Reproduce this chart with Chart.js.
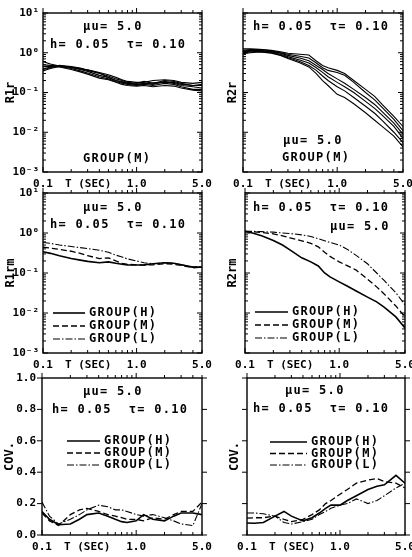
<!DOCTYPE html>
<html>
<head>
<meta charset="utf-8">
<script src="https://cdn.jsdelivr.net/npm/chart.js@4.4.0/dist/chart.umd.min.js"></script>
<style>
  html, body { margin: 0; padding: 0; background: #fff; }
  #wrap { position: relative; width: 412px; height: 557px; overflow: hidden; }
  #wrap canvas { position: absolute; left: 0; top: 0; }
</style>
</head>
<body>
<div id="wrap">
  <canvas id="r1r"></canvas>
  <canvas id="r2r"></canvas>
  <canvas id="r1rm"></canvas>
  <canvas id="r2rm"></canvas>
  <canvas id="cov1"></canvas>
  <canvas id="cov2"></canvas>
</div>
<script>
// periods T (sec), shared by every curve
const periods = [0.1, 0.12, 0.15, 0.2, 0.25, 0.3, 0.4, 0.5, 0.6, 0.7, 0.8, 1.0, 1.2, 1.5, 2.0, 2.5, 3.0, 4.0, 5.0];
const xTicks = [0.1, 1.0, 5.0];
const yLogTicks = [0.001, 0.01, 0.1, 1, 10];
const yLogLabels = ['10⁻³', '10⁻²', '10⁻¹', '10⁰', '10¹'];
const yCovTicks = [0, 0.2, 0.4, 0.6, 0.8, 1.0];
const groupLabels = ['GROUP(H)', 'GROUP(M)', 'GROUP(L)'];

// R1r, individual records of group M
const r1rRecords = [
  [0.60, 0.52, 0.46, 0.42, 0.38, 0.34, 0.27, 0.24, 0.20, 0.18, 0.17, 0.16, 0.17, 0.16, 0.19, 0.17, 0.15, 0.14, 0.13],
  [0.38, 0.42, 0.47, 0.44, 0.40, 0.36, 0.30, 0.26, 0.22, 0.20, 0.18, 0.17, 0.19, 0.17, 0.20, 0.19, 0.17, 0.15, 0.15],
  [0.35, 0.40, 0.45, 0.40, 0.35, 0.31, 0.25, 0.22, 0.19, 0.17, 0.16, 0.15, 0.16, 0.15, 0.17, 0.16, 0.14, 0.12, 0.12],
  [0.45, 0.46, 0.44, 0.38, 0.33, 0.29, 0.23, 0.21, 0.18, 0.16, 0.15, 0.145, 0.15, 0.14, 0.15, 0.145, 0.13, 0.115, 0.11],
  [0.50, 0.48, 0.46, 0.43, 0.39, 0.37, 0.32, 0.28, 0.24, 0.21, 0.19, 0.18, 0.18, 0.20, 0.21, 0.20, 0.18, 0.17, 0.18],
  [0.40, 0.43, 0.48, 0.45, 0.41, 0.37, 0.31, 0.24, 0.20, 0.19, 0.17, 0.16, 0.165, 0.175, 0.18, 0.18, 0.16, 0.15, 0.16]
];

// R2r, individual records of group M
const r2rRecords = [
  [1.25, 1.25, 1.22, 1.15, 1.05, 0.97, 0.92, 0.88, 0.62, 0.48, 0.42, 0.36, 0.30, 0.20, 0.12, 0.08, 0.05, 0.025, 0.014],
  [1.15, 1.20, 1.20, 1.12, 1.00, 0.92, 0.82, 0.74, 0.55, 0.42, 0.36, 0.32, 0.27, 0.18, 0.10, 0.065, 0.042, 0.021, 0.011],
  [1.10, 1.15, 1.15, 1.08, 0.97, 0.86, 0.74, 0.63, 0.48, 0.38, 0.30, 0.22, 0.17, 0.12, 0.075, 0.05, 0.033, 0.017, 0.009],
  [1.05, 1.10, 1.12, 1.05, 0.92, 0.80, 0.66, 0.55, 0.42, 0.32, 0.25, 0.18, 0.14, 0.10, 0.06, 0.04, 0.027, 0.014, 0.007],
  [1.00, 1.05, 1.08, 1.00, 0.88, 0.75, 0.60, 0.48, 0.36, 0.26, 0.20, 0.14, 0.11, 0.075, 0.045, 0.03, 0.02, 0.010, 0.0055],
  [0.95, 1.00, 1.05, 0.98, 0.85, 0.72, 0.56, 0.44, 0.30, 0.20, 0.15, 0.09, 0.075, 0.052, 0.031, 0.02, 0.014, 0.008, 0.0043]
];

// R1rm, group means
const r1rmH = [0.34, 0.31, 0.27, 0.23, 0.21, 0.195, 0.18, 0.19, 0.175, 0.165, 0.16, 0.158, 0.16, 0.17, 0.18, 0.175, 0.16, 0.14, 0.14];
const r1rmM = [0.44, 0.42, 0.39, 0.35, 0.31, 0.27, 0.23, 0.24, 0.20, 0.175, 0.165, 0.16, 0.158, 0.16, 0.17, 0.165, 0.155, 0.135, 0.14];
const r1rmL = [0.58, 0.55, 0.50, 0.46, 0.43, 0.41, 0.37, 0.33, 0.28, 0.25, 0.225, 0.20, 0.18, 0.17, 0.18, 0.175, 0.16, 0.14, 0.145];

// R2rm, group means
const r2rmH = [1.1, 1.0, 0.85, 0.65, 0.50, 0.38, 0.24, 0.19, 0.15, 0.10, 0.08, 0.06, 0.048, 0.036, 0.025, 0.019, 0.014, 0.008, 0.0042];
const r2rmM = [1.1, 1.08, 1.03, 0.95, 0.85, 0.76, 0.64, 0.55, 0.45, 0.33, 0.26, 0.19, 0.155, 0.12, 0.07, 0.045, 0.03, 0.015, 0.008];
const r2rmL = [1.1, 1.1, 1.08, 1.05, 1.0, 0.97, 0.90, 0.82, 0.72, 0.64, 0.58, 0.50, 0.40, 0.28, 0.17, 0.10, 0.065, 0.032, 0.016];

// COV of R1r
const cov1H = [0.15, 0.10, 0.065, 0.07, 0.10, 0.13, 0.14, 0.12, 0.10, 0.085, 0.08, 0.09, 0.13, 0.10, 0.09, 0.12, 0.14, 0.14, 0.13];
const cov1M = [0.14, 0.09, 0.06, 0.13, 0.16, 0.17, 0.15, 0.13, 0.12, 0.11, 0.10, 0.10, 0.09, 0.11, 0.10, 0.13, 0.15, 0.15, 0.21];
const cov1L = [0.21, 0.12, 0.07, 0.10, 0.13, 0.16, 0.19, 0.18, 0.16, 0.16, 0.15, 0.13, 0.12, 0.13, 0.11, 0.09, 0.07, 0.06, 0.20];

// COV of R2r
const cov2H = [0.076, 0.075, 0.08, 0.12, 0.15, 0.12, 0.09, 0.11, 0.14, 0.17, 0.19, 0.19, 0.22, 0.25, 0.29, 0.31, 0.32, 0.38, 0.33];
const cov2M = [0.108, 0.11, 0.11, 0.12, 0.10, 0.085, 0.10, 0.13, 0.16, 0.20, 0.22, 0.26, 0.29, 0.33, 0.35, 0.36, 0.34, 0.33, 0.30];
const cov2L = [0.14, 0.14, 0.135, 0.12, 0.08, 0.07, 0.085, 0.10, 0.13, 0.15, 0.17, 0.19, 0.20, 0.23, 0.20, 0.22, 0.25, 0.30, 0.33];

const W = 412, H = 557;
const MONO = '"DejaVu Sans Mono", monospace';
const MU = 'μu= 5.0';
const HT = 'h= 0.05  τ= 0.10';
const DASH = { H: [], M: [6, 3], L: [7, 2, 1.5, 2] };

Chart.defaults.font.family = MONO;
Chart.defaults.color = '#000';

function minorLog(min, max) {
  const out = [];
  for (let e = Math.floor(Math.log10(min)) - 1; e <= Math.ceil(Math.log10(max)); e++) {
    for (let k = 1; k < 10; k++) {
      const v = k * Math.pow(10, e);
      if (v >= min * 0.999 && v <= max * 1.001) out.push({ v, major: k === 1 });
    }
  }
  return out;
}

// frame, inside ticks, notes and legend
const framePlugin = {
  id: 'frame',
  afterDraw(chart, args, opts) {
    const { ctx, chartArea: a, scales: { x, y } } = chart;
    ctx.save();
    ctx.strokeStyle = '#000';
    ctx.lineWidth = 1.4;
    ctx.strokeRect(a.left, a.top, a.right - a.left, a.bottom - a.top);

    ctx.lineWidth = 1;
    ctx.beginPath();
    minorLog(x.min, x.max).forEach(t => {
      const px = x.getPixelForValue(t.v);
      const len = t.major ? 5 : 3;
      ctx.moveTo(px, a.bottom); ctx.lineTo(px, a.bottom - len);
      ctx.moveTo(px, a.top); ctx.lineTo(px, a.top - len);
    });
    if (y.type === 'logarithmic') {
      minorLog(y.min, y.max).forEach(t => {
        const py = y.getPixelForValue(t.v);
        const len = t.major ? 5 : 3;
        ctx.moveTo(a.left, py); ctx.lineTo(a.left + len, py);
        ctx.moveTo(a.right, py); ctx.lineTo(a.right - len, py);
      });
    } else {
      yCovTicks.forEach(v => {
        const py = y.getPixelForValue(v);
        ctx.moveTo(a.left, py); ctx.lineTo(a.left - 5, py);
        ctx.moveTo(a.right, py); ctx.lineTo(a.right + 5, py);
      });
    }
    ctx.stroke();

    ctx.fillStyle = '#000';
    ctx.textBaseline = 'middle';
    ctx.textAlign = 'left';
    ctx.font = 'bold 11px ' + MONO;
    ctx.letterSpacing = '0px';
    ctx.fillText('T (SEC)', a.left + 22, a.bottom + 12);

    ctx.font = 'bold 12px ' + MONO;
    ctx.letterSpacing = '1.3px';
    (opts.notes || []).forEach(n => ctx.fillText(n.text, a.left + n.dx, a.top + n.dy));

    const lg = opts.legend;
    if (lg) {
      chart.data.datasets.forEach((ds, i) => {
        const ly = a.top + lg.dy + i * lg.gap;
        ctx.save();
        ctx.lineWidth = ds.borderWidth;
        ctx.setLineDash(ds.borderDash);
        ctx.beginPath();
        ctx.moveTo(a.left + lg.dx, ly);
        ctx.lineTo(a.left + lg.dx + lg.len, ly);
        ctx.stroke();
        ctx.restore();
        ctx.fillText(ds.label, a.left + lg.dx + lg.len + 4, ly);
      });
    }
    ctx.restore();
  }
};

function groupSets(h, m, l) {
  return [
    { label: groupLabels[0], values: h, dash: DASH.H, width: 1.6 },
    { label: groupLabels[1], values: m, dash: DASH.M, width: 1.3 },
    { label: groupLabels[2], values: l, dash: DASH.L, width: 1.1 }
  ];
}

function recordSets(list) {
  return list.map((v, i) => ({ label: 'rec' + (i + 1), values: v, dash: [], width: 1.1 }));
}

function makePanel(id, p) {
  const canvas = document.getElementById(id);
  canvas.width = W;
  canvas.height = H;
  const isLog = p.yType === 'log';
  const xh = 30;
  return new Chart(canvas, {
    type: 'line',
    data: {
      datasets: p.series.map(s => ({
        label: s.label,
        data: periods.map((t, i) => ({ x: t, y: s.values[i] })),
        borderColor: '#000',
        borderWidth: s.width,
        borderDash: s.dash,
        pointRadius: 0,
        tension: 0,
        fill: false
      }))
    },
    options: {
      responsive: false,
      animation: false,
      events: [],
      layout: {
        padding: { left: p.area[0] - p.yw, top: p.area[1], right: W - p.area[2], bottom: H - p.area[3] - xh }
      },
      plugins: {
        legend: { display: false },
        tooltip: { enabled: false },
        frame: { notes: p.notes, legend: p.legend }
      },
      scales: {
        x: {
          type: 'logarithmic',
          min: 0.1,
          max: 5,
          grid: { display: false, drawTicks: false },
          border: { display: false },
          afterBuildTicks: s => { s.ticks = xTicks.map(v => ({ value: v })); },
          afterFit: s => { s.height = xh; s.paddingLeft = 0; s.paddingRight = 0; },
          ticks: {
            autoSkip: false, maxRotation: 0, padding: 6,
            font: { size: 11, weight: 'bold' },
            callback: v => Number(v).toFixed(1)
          }
        },
        y: {
          type: isLog ? 'logarithmic' : 'linear',
          min: isLog ? 0.001 : 0,
          max: isLog ? 10 : 1,
          grid: { display: false, drawTicks: false },
          border: { display: false },
          afterBuildTicks: s => { s.ticks = (isLog ? yLogTicks : yCovTicks).map(v => ({ value: v })); },
          afterFit: s => { s.width = p.yw; },
          ticks: {
            display: p.yLabels,
            padding: isLog ? 4 : 6,
            font: { size: 11, weight: 'bold' },
            callback: (v, i) => isLog ? yLogLabels[i] : Number(v).toFixed(1)
          },
          title: {
            display: true, text: p.title, padding: 0,
            font: { size: 12, weight: 'bold' }
          }
        }
      }
    },
    plugins: [framePlugin]
  });
}

makePanel('r1r', {
  area: [43, 13, 202, 172], yw: 39, yType: 'log', yLabels: true, title: 'R1r',
  series: recordSets(r1rRecords),
  notes: [{ text: MU, dx: 40, dy: 14 }, { text: HT, dx: 7, dy: 32 }, { text: 'GROUP(M)', dx: 40, dy: 146 }]
});
makePanel('r2r', {
  area: [243, 13, 403, 172], yw: 17, yType: 'log', yLabels: false, title: 'R2r',
  series: recordSets(r2rRecords),
  notes: [{ text: HT, dx: 10, dy: 14 }, { text: MU, dx: 40, dy: 128 }, { text: 'GROUP(M)', dx: 39, dy: 145 }]
});
makePanel('r1rm', {
  area: [43, 193, 202, 353], yw: 39, yType: 'log', yLabels: true, title: 'R1rm',
  series: groupSets(r1rmH, r1rmM, r1rmL),
  notes: [{ text: MU, dx: 40, dy: 15 }, { text: HT, dx: 7, dy: 32 }],
  legend: { dx: 10, dy: 120, gap: 13, len: 32 }
});
makePanel('r2rm', {
  area: [245, 193, 405, 353], yw: 19, yType: 'log', yLabels: false, title: 'R2rm',
  series: groupSets(r2rmH, r2rmM, r2rmL),
  notes: [{ text: HT, dx: 8, dy: 15 }, { text: MU, dx: 85, dy: 34 }],
  legend: { dx: 10, dy: 119, gap: 13, len: 33 }
});
makePanel('cov1', {
  area: [42, 378, 202, 535], yw: 39, yType: 'lin', yLabels: true, title: 'COV.',
  series: groupSets(cov1H, cov1M, cov1L),
  notes: [{ text: MU, dx: 41, dy: 14 }, { text: HT, dx: 10, dy: 32 }],
  legend: { dx: 25, dy: 63, gap: 12, len: 33 }
});
makePanel('cov2', {
  area: [247, 378, 405, 535], yw: 19, yType: 'lin', yLabels: false, title: 'COV.',
  series: groupSets(cov2H, cov2M, cov2L),
  notes: [{ text: MU, dx: 38, dy: 13 }, { text: HT, dx: 6, dy: 31 }],
  legend: { dx: 23, dy: 64, gap: 11.5, len: 37 }
});
</script>
</body>
</html>
